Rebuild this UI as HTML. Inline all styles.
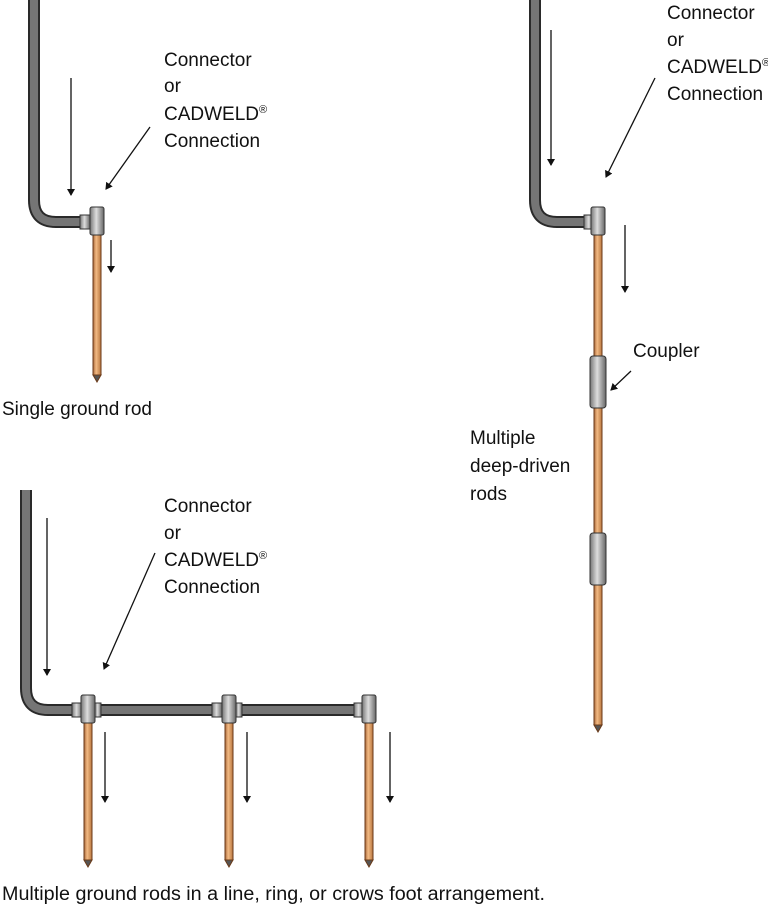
<!DOCTYPE html>
<html><head><meta charset="utf-8"><style>
html,body{margin:0;padding:0;background:#fff;}
svg{display:block;}
text{font-family:"Liberation Sans",sans-serif;font-size:19px;fill:#111;}
</style></head><body>
<svg width="768" height="907" viewBox="0 0 768 907" xmlns="http://www.w3.org/2000/svg">
<defs>
<marker id="ah" markerWidth="8" markerHeight="8" refX="6" refY="4" orient="auto" markerUnits="userSpaceOnUse"><path d="M0,0 L7,4 L0,8 z" fill="#111"/></marker>
<linearGradient id="cu" x1="0" x2="1"><stop offset="0" stop-color="#a8683a"/><stop offset="0.4" stop-color="#f2b983"/><stop offset="1" stop-color="#b8763f"/></linearGradient>
<linearGradient id="cl" x1="0" x2="1"><stop offset="0" stop-color="#777"/><stop offset="0.45" stop-color="#ddd"/><stop offset="1" stop-color="#666"/></linearGradient>
</defs>
<g fill="none" stroke-linecap="butt">
<path d="M34,0 V200 Q34,222 56,222 H88" stroke="#2a2a2a" stroke-width="12"/>
<path d="M34,0 V200 Q34,222 56,222 H88" stroke="#757575" stroke-width="8"/>
<path d="M535,0 V200 Q535,222 557,222 H592" stroke="#2a2a2a" stroke-width="12"/>
<path d="M535,0 V200 Q535,222 557,222 H592" stroke="#757575" stroke-width="8"/>
<path d="M26,490 V688 Q26,710 48,710 H366" stroke="#2a2a2a" stroke-width="12"/>
<path d="M26,490 V688 Q26,710 48,710 H366" stroke="#757575" stroke-width="8"/>
</g>
<g stroke="#6a3a18" stroke-width="1">
<rect x="93" y="233" width="8" height="142" fill="url(#cu)"/>
<path d="M93,375 L97,382 L101,375 z" fill="#555"/>
<rect x="594" y="233" width="8" height="492" fill="url(#cu)"/>
<path d="M594,725 L598,732 L602,725 z" fill="#555"/>
<rect x="84" y="718" width="8" height="142" fill="url(#cu)"/>
<path d="M84,860 L88,867 L92,860 z" fill="#555"/>
<rect x="225" y="718" width="8" height="142" fill="url(#cu)"/>
<path d="M225,860 L229,867 L233,860 z" fill="#555"/>
<rect x="365" y="718" width="8" height="142" fill="url(#cu)"/>
<path d="M365,860 L369,867 L373,860 z" fill="#555"/>
</g>
<g stroke="#333" stroke-width="1" fill="url(#cl)">
<rect x="80" y="215" width="10" height="14"/><rect x="90" y="207" width="14" height="28" rx="2"/>
<rect x="584" y="215" width="10" height="14"/><rect x="591" y="207" width="14" height="28" rx="2"/>
<rect x="72" y="703" width="10" height="14"/><rect x="81" y="695" width="14" height="28" rx="2"/><rect x="95" y="703" width="6" height="14"/>
<rect x="212" y="703" width="10" height="14"/><rect x="222" y="695" width="14" height="28" rx="2"/><rect x="236" y="703" width="6" height="14"/>
<rect x="354" y="703" width="10" height="14"/><rect x="362" y="695" width="14" height="28" rx="2"/>
<rect x="590" y="356" width="16" height="52" rx="3"/>
<rect x="590" y="533" width="16" height="52" rx="3"/>
</g>
<g stroke="#111" stroke-width="1.3" marker-end="url(#ah)">
<line x1="71" y1="78" x2="71" y2="195"/>
<line x1="150" y1="127" x2="106" y2="189"/>
<line x1="111" y1="240" x2="111" y2="272"/>
<line x1="551" y1="30" x2="551" y2="165"/>
<line x1="655" y1="78" x2="606" y2="177"/>
<line x1="625" y1="225" x2="625" y2="292"/>
<line x1="631" y1="371" x2="611" y2="390"/>
<line x1="47" y1="518" x2="47" y2="675"/>
<line x1="155" y1="553" x2="104" y2="669"/>
<line x1="105" y1="732" x2="105" y2="802"/>
<line x1="247" y1="732" x2="247" y2="802"/>
<line x1="390" y1="732" x2="390" y2="802"/>
</g>
<text x="164" y="66">Connector</text>
<text x="164" y="92">or</text>
<text x="164" y="120">CADWELD<tspan font-size="11" dy="-7">®</tspan></text>
<text x="164" y="147">Connection</text>
<text x="2" y="415">Single ground rod</text>
<text x="667" y="19">Connector</text>
<text x="667" y="46">or</text>
<text x="667" y="73">CADWELD<tspan font-size="11" dy="-7">®</tspan></text>
<text x="667" y="100">Connection</text>
<text x="633" y="357">Coupler</text>
<text x="470" y="444">Multiple</text>
<text x="470" y="472">deep-driven</text>
<text x="470" y="500">rods</text>
<text x="164" y="512">Connector</text>
<text x="164" y="539">or</text>
<text x="164" y="566">CADWELD<tspan font-size="11" dy="-7">®</tspan></text>
<text x="164" y="593">Connection</text>
<text x="2" y="900" textLength="543" lengthAdjust="spacingAndGlyphs">Multiple ground rods in a line, ring, or crows foot arrangement.</text>
</svg>
</body></html>
